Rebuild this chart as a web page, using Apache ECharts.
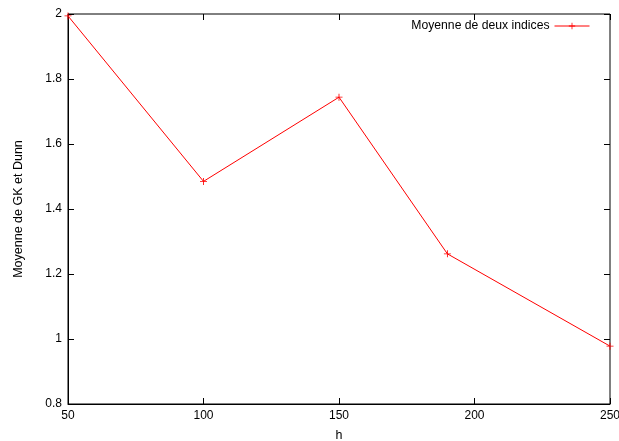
<!DOCTYPE html>
<html><head><meta charset="utf-8">
<script src="https://cdn.jsdelivr.net/npm/echarts@6/dist/echarts.min.js"></script>
<style>html,body{margin:0;padding:0;background:#fff}#c{width:619px;height:441px}</style>
</head><body><div id="c"></div>
<script>
const hValues = [50, 100, 150, 190, 250];
const meanValues = [1.994, 1.485, 1.744, 1.262, 0.978];
const seriesName = 'Moyenne de deux indices';
const xTitle = 'h';
const yTitle = 'Moyenne de GK et Dunn';

const font = 'Liberation Sans, Arial, Helvetica, sans-serif';
const plus = 'path://M-1,-0.12L1,-0.12L1,0.12L-1,0.12Z M-0.12,-1L0.12,-1L0.12,1L-0.12,1Z';
const chart = echarts.init(document.getElementById('c'), null, {renderer: 'canvas'});
const tickStyle = {show: true, inside: true, length: 6, lineStyle: {color: '#000', width: 1}};
chart.setOption({
  animation: false,
  backgroundColor: '#fff',
  textStyle: {fontFamily: font},
  grid: {left: 68, top: 14, right: 9, bottom: 37, show: true, borderColor: '#000', borderWidth: 1,
    backgroundColor: 'transparent', containLabel: false, outerBoundsMode: 'none'},
  legend: {
    show: true, right: 24, top: 15, align: 'right', itemWidth: 35, itemHeight: 8,
    textStyle: {fontSize: 12.2, color: '#000', fontFamily: font},
    lineStyle: {width: 1},
    data: [{name: seriesName, lineStyle: {width: 1}}]
  },
  xAxis: [{
    type: 'value', min: 50, max: 250, interval: 50,
    name: xTitle, nameLocation: 'middle', nameGap: 25,
    nameTextStyle: {fontSize: 12.5, color: '#000', fontFamily: font},
    axisLine: {show: true, lineStyle: {color: '#000', width: 1}},
    axisTick: tickStyle,
    axisLabel: {fontSize: 12, color: '#000', margin: 6, fontFamily: font},
    splitLine: {show: false}
  }, {
    type: 'value', min: 50, max: 250, interval: 50, position: 'top',
    axisLine: {show: false}, axisTick: tickStyle, axisLabel: {show: false}, splitLine: {show: false}
  }],
  yAxis: [{
    type: 'value', min: 0.8, max: 2, interval: 0.2,
    name: yTitle, nameLocation: 'middle', nameGap: 43,
    nameTextStyle: {fontSize: 12.5, color: '#000', fontFamily: font},
    axisLine: {show: true, lineStyle: {color: '#000', width: 1}},
    axisTick: tickStyle,
    axisLabel: {fontSize: 12, color: '#000', margin: 6, fontFamily: font,
      formatter: v => String(parseFloat(Number(v).toFixed(1)))},
    splitLine: {show: false}
  }, {
    type: 'value', min: 0.8, max: 2, interval: 0.2, position: 'right',
    axisLine: {show: false}, axisTick: tickStyle, axisLabel: {show: false}, splitLine: {show: false}
  }],
  series: [{
    name: seriesName, type: 'line',
    data: hValues.map((h, i) => [h, meanValues[i]]),
    lineStyle: {color: '#ff0000', width: 1},
    itemStyle: {color: '#ff0000'},
    symbol: plus, symbolSize: 7, showSymbol: true, clip: false
  }]
});
</script></body></html>
